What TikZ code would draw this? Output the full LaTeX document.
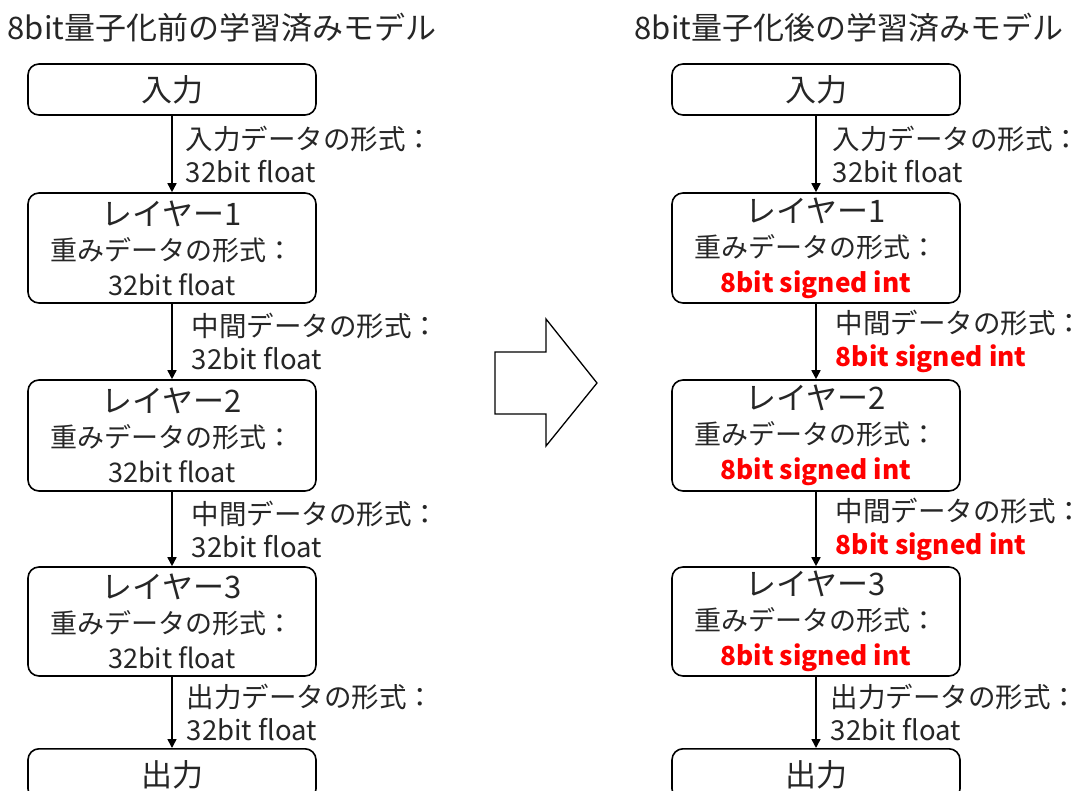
\documentclass[tikz,border=0pt]{standalone}
\usepackage{fontspec}
\setmainfont{Noto Sans CJK JP}
\usetikzlibrary{arrows.meta}
\definecolor{txt}{HTML}{262626}
\definecolor{hot}{HTML}{FF0000}
\tikzset{
  box/.style={draw, line width=1.6pt, rounded corners=11pt, minimum width=288pt,
    inner sep=0pt, align=center, text=txt, font=\fontsize{27}{35}\selectfont},
  conn/.style={line width=1.6pt, -{Triangle[width=9pt,length=9pt]}},
  lbl/.style={anchor=west, inner sep=0pt, align=left, text=txt,
    font=\fontsize{27.5}{33}\selectfont},
  hd/.style={inner sep=0pt, text=txt, font=\fontsize{31}{34}\selectfont},
  bigarrow/.style={draw, line width=1.3pt, line join=miter}
}
\newcommand{\red}[1]{\textcolor{hot}{\fontsize{26.2}{33}\selectfont\bfseries #1}}
\newcommand{\bt}[1]{{\fontsize{31}{35}\selectfont #1}}
\newcommand{\tailcolon}{：\kern-8pt}
\begin{document}
\begin{tikzpicture}[x=1pt,y=-1pt]
\useasboundingbox (0,0) rectangle (1072,791);
\clip (0,0) rectangle (1072,791);

% titles
\node[hd] (tl) at (222,28) {8bit量子化前の学習済みモデル};
\node[hd] (tr) at (849,28) {8bit量子化後の学習済みモデル};

% left column
\node[box, minimum height=51pt] (lin) at (172,89.5) {\bt{入力}};
\node[box, minimum height=110pt] (l1) at (172,248) {\bt{レイヤー1}\\重みデータの形式：\\32bit float};
\node[box, minimum height=111pt] (l2) at (172,435.5) {\bt{レイヤー2}\\重みデータの形式：\\32bit float};
\node[box, minimum height=109pt] (l3) at (172,621.5) {\bt{レイヤー3}\\重みデータの形式：\\32bit float};
\node[box, minimum height=51pt, anchor=north] (lout) at (172,748) {\\[-8pt]\bt{出力}};

\draw[conn] (lin) -- node[lbl, xshift=13pt] {入力データの形式：\\32bit float} (l1);
\draw[conn] (l1) -- node[lbl, xshift=19pt] {中間データの形式：\\32bit float} (l2);
\draw[conn] (l2) -- node[lbl, xshift=19pt] {中間データの形式：\\32bit float} (l3);
\draw[conn] (l3) -- node[lbl, xshift=14pt] {出力データの形式：\\32bit float} (lout);

% right column
\node[box, minimum height=51pt] (rin) at (816,89.5) {\bt{入力}};
\node[box, minimum height=110pt] (r1) at (816,248) {\bt{レイヤー1}\\重みデータの形式：\\\red{8bit signed int}};
\node[box, minimum height=111pt] (r2) at (816,435.5) {\bt{レイヤー2}\\重みデータの形式：\\\red{8bit signed int}};
\node[box, minimum height=109pt] (r3) at (816,621.5) {\bt{レイヤー3}\\重みデータの形式：\\\red{8bit signed int}};
\node[box, minimum height=51pt, anchor=north] (rout) at (816,748) {\\[-8pt]\bt{出力}};

\draw[conn] (rin) -- node[lbl, xshift=16pt] {入力データの形式\tailcolon\\32bit float} (r1);
\draw[conn] (r1) -- node[lbl, xshift=19pt] {中間データの形式\tailcolon\\\red{8bit signed int}} (r2);
\draw[conn] (r2) -- node[lbl, xshift=19pt] {中間データの形式\tailcolon\\\red{8bit signed int}} (r3);
\draw[conn] (r3) -- node[lbl, xshift=14pt] {出力データの形式\tailcolon\\32bit float} (rout);

% big arrow
\draw[bigarrow] (495,352) -- (546,352) -- (546,319) -- (597,383) -- (546,446) -- (546,414) -- (495,414) -- cycle;
\end{tikzpicture}
\end{document}
